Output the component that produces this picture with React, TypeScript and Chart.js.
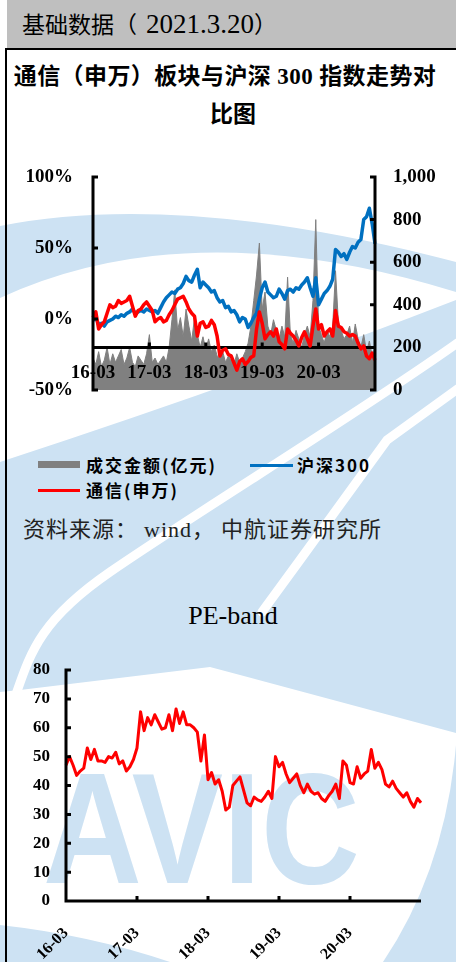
import React, { useEffect, useRef } from 'react';
import { Chart, registerables } from 'chart.js';

Chart.register(...registerables);

// ---------------- data ----------------
const yearLabels = ['16-03', '17-03', '18-03', '19-03', '20-03'];
const yearTickIndex = [0, 20, 40, 60, 80];

// 沪深300 cumulative change (%), 20 samples per year, 2016-03 .. 2021-03
const hs300Pct = [
  -1, 1, -4, -3, -5, -2, -1, 0, 2, 1,
  3, 2, 4, 5, 7, 4, 5, 6, 5, 7,
  6, 5, 6, 4, 8, 12, 15, 17, 19, 18,
  21, 22, 25, 30, 27, 26, 31, 35, 22, 26,
  24, 22, 19, 20, 15, 12, 13, 8, 9, 5,
  6, 3, -2, 1, 0, -6, -3, 1, 4, 14,
  22, 26, 19, 17, 15, 16, 21, 18, 14, 20,
  21, 19, 22, 21, 24, 26, 29, 22, 16, 29,
  10, 14, 18, 20, 23, 28, 49, 47, 44, 46,
  42, 47, 51, 50, 54, 56, 70, 72, 78, 67,
  53,
];

// 通信(申万) cumulative change (%)
const telecomPct = [
  1, 5, -7, -4, -2, 4, 10, 8, 9, 13,
  11, 12, 13, 16, 9, 2, 6, 7, 10, 12,
  9, 6, -2, 0, 1, -2, -1, 3, 6, 10,
  14, 15, 16, 12, 7, 4, 2, -12, -3, -2,
  -6, -5, -1, -4, -12, -26, -22, -21, -25, -26,
  -31, -36, -30, -28, -32, -30, -27, -26, -7, 5,
  -3, -14, -11, -9, -12, -7, -16, -18, -21, -7,
  -10, -12, -15, -19, -13, -9, -14, -19, -5, 7,
  -7, -4, -12, -9, -7, -12, 6, -5, -6, -9,
  -10, -12, -11, -12, -17, -21, -19, -26, -28, -24,
  -29,
];

// 成交金额 (亿元)
const turnoverYi = [
  150, 120, 180, 110, 140, 200, 120, 170, 130, 160,
  190, 120, 150, 200, 130, 110, 160, 140, 120, 170,
  260, 130, 150, 120, 140, 160, 130, 200, 330, 470,
  280, 340, 250, 380, 300, 230, 340, 260, 200, 250,
  190, 240, 180, 210, 160, 150, 180, 130, 160, 140,
  120, 170, 130, 150, 180, 220, 300, 420, 540, 690,
  380, 460, 300, 260, 330, 280, 240, 300, 250, 530,
  260, 220, 280, 240, 200, 260, 300, 250, 420, 800,
  300, 260, 220, 280, 250, 300, 560, 320, 280, 240,
  260, 300, 220, 310, 240, 200, 260, 180, 230, 160,
  200,
];

// PE-band
const peBand = [
  47, 50, 47, 43.5, 45, 46, 53, 49, 52.5, 48.5,
  48.5, 48, 50, 49.5, 51.5, 47.5, 48.5, 45, 46.5, 49,
  53, 65.5, 59, 63.5, 61, 64.5, 62, 59.5, 60, 64.5,
  59, 66.5, 61.5, 65.5, 61, 61, 60, 58.5, 48.5, 57.5,
  42, 44.5, 40.5, 42, 38, 31.5, 32.5, 40, 41.5, 43,
  38.5, 34, 33, 36, 35, 34.5, 36, 38, 35.5, 50,
  46.5, 48, 44, 41, 42.5, 44, 40, 37.5, 40.5, 38,
  37, 37.5, 35.5, 34.5, 36.5, 38, 40.5, 35.5, 48.5, 47,
  41, 40.5, 46.5, 42.5, 44, 45, 52.5, 46, 48, 45.5,
  40.5, 39.5, 41.5, 39, 37.5, 36, 37.5, 34.5, 32.5, 35.5,
  34,
];

const pctAxisTicks = [-50, 0, 50, 100];
const turnoverAxisTicks = [0, 200, 400, 600, 800, 1000];
const peAxisTicks = [0, 10, 20, 30, 40, 50, 60, 70, 80];
const xAxisCrossTurnover = 200;

// ---------------- styles ----------------
const SERIF = "'Liberation Serif', 'Times New Roman', serif";
const MIXED = "'Liberation Serif', 'Noto Sans CJK SC', serif";
const CJK = "'Noto Sans CJK SC', sans-serif";
const WATER = '#CDE2F3';

const trendAxesPlugin = {
  id: 'trendAxes',
  afterDatasetDraw(chart: any, args: any) {
    if (args.index !== 2) return;
    const { ctx, chartArea } = chart;
    const x = chart.scales.x;
    const yy = chart.scales.y1.getPixelForValue(xAxisCrossTurnover);
    ctx.save();
    ctx.strokeStyle = '#000';
    ctx.lineWidth = 3;
    ctx.beginPath();
    ctx.moveTo(chartArea.left, yy);
    ctx.lineTo(chartArea.right, yy);
    yearTickIndex.forEach((i) => {
      if (i === 0) return;
      const px = x.getPixelForValue(i);
      ctx.moveTo(px, yy);
      ctx.lineTo(px, yy - 5);
    });
    ctx.stroke();
    ctx.fillStyle = '#000';
    ctx.font = `bold 19px ${SERIF}`;
    ctx.textAlign = 'center';
    ctx.textBaseline = 'alphabetic';
    yearTickIndex.forEach((i, k) => {
      ctx.fillText(yearLabels[k], x.getPixelForValue(i), yy + 31);
    });
    ctx.restore();
  },
  afterDraw(chart: any) {
    const { ctx, chartArea } = chart;
    const yL = chart.scales.y;
    const yR = chart.scales.y1;
    ctx.save();
    ctx.strokeStyle = '#000';
    ctx.lineWidth = 3;
    ctx.beginPath();
    ctx.moveTo(chartArea.left, chartArea.top - 1.5);
    ctx.lineTo(chartArea.left, chartArea.bottom + 1.5);
    pctAxisTicks.forEach((v) => {
      const p = yL.getPixelForValue(v);
      ctx.moveTo(chartArea.left, p);
      ctx.lineTo(chartArea.left + 5, p);
    });
    ctx.moveTo(chartArea.right, chartArea.top - 1.5);
    ctx.lineTo(chartArea.right, chartArea.bottom + 1.5);
    turnoverAxisTicks.forEach((v) => {
      const p = yR.getPixelForValue(v);
      ctx.moveTo(chartArea.right, p);
      ctx.lineTo(chartArea.right - 5, p);
    });
    ctx.stroke();
    ctx.restore();
  },
};

const peAxesPlugin = {
  id: 'peAxes',
  afterDraw(chart: any) {
    const { ctx, chartArea } = chart;
    const x = chart.scales.x;
    const y = chart.scales.y;
    ctx.save();
    ctx.strokeStyle = '#000';
    ctx.lineWidth = 3;
    ctx.beginPath();
    ctx.moveTo(chartArea.left, chartArea.top - 1.5);
    ctx.lineTo(chartArea.left, chartArea.bottom);
    ctx.lineTo(chartArea.right, chartArea.bottom);
    peAxisTicks.forEach((v) => {
      const p = y.getPixelForValue(v);
      ctx.moveTo(chartArea.left, p);
      ctx.lineTo(chartArea.left + 5, p);
    });
    yearTickIndex.forEach((i) => {
      if (i === 0) return;
      const px = x.getPixelForValue(i);
      ctx.moveTo(px, chartArea.bottom);
      ctx.lineTo(px, chartArea.bottom - 5);
    });
    ctx.stroke();
    ctx.restore();
  },
};

function TrendChart() {
  const ref = useRef<HTMLCanvasElement>(null);
  useEffect(() => {
    const labels = hs300Pct.map((_, i) => String(i));
    const tickFont = { family: SERIF, size: 19, weight: 'bold' as const };
    const chart = new Chart(ref.current as HTMLCanvasElement, {
      type: 'line',
      data: {
        labels,
        datasets: [
          {
            label: '通信(申万)',
            data: telecomPct,
            yAxisID: 'y',
            borderColor: '#FF0000',
            borderWidth: 3.5,
            pointRadius: 0,
            tension: 0,
            borderJoinStyle: 'round',
            fill: false,
          },
          {
            label: '沪深300',
            data: hs300Pct,
            yAxisID: 'y',
            borderColor: '#0070C0',
            borderWidth: 3.5,
            pointRadius: 0,
            tension: 0,
            borderJoinStyle: 'round',
            fill: false,
          },
          {
            label: '成交金额(亿元)',
            data: turnoverYi,
            yAxisID: 'y1',
            borderColor: '#808080',
            borderWidth: 1,
            backgroundColor: '#808080',
            pointRadius: 0,
            tension: 0,
            fill: 'start',
          },
        ],
      },
      options: {
        animation: false,
        responsive: false,
        maintainAspectRatio: false,
        devicePixelRatio: 1,
        layout: { padding: { top: 32, bottom: 32, left: 0, right: 0 } },
        plugins: { legend: { display: false }, tooltip: { enabled: false } },
        scales: {
          x: { display: false },
          y: {
            position: 'left',
            min: -50,
            max: 100,
            ticks: {
              stepSize: 50,
              callback: (v: any) => `${v}%`,
              font: tickFont,
              color: '#000',
              padding: 20,
            },
            grid: { display: false, drawTicks: false },
            border: { display: false },
            afterFit: (s: any) => {
              s.width = 83;
            },
          },
          y1: {
            position: 'right',
            min: 0,
            max: 1000,
            ticks: {
              stepSize: 200,
              callback: (v: any) => Number(v).toLocaleString('en-US'),
              font: tickFont,
              color: '#000',
              padding: 18,
            },
            grid: { display: false, drawTicks: false },
            border: { display: false },
            afterFit: (s: any) => {
              s.width = 81;
            },
          },
        },
      } as any,
      plugins: [trendAxesPlugin],
    });
    return () => chart.destroy();
  }, []);
  return (
    <canvas
      ref={ref}
      width={446}
      height={277}
      style={{ position: 'absolute', left: 10, top: 145, width: 446, height: 277 }}
    />
  );
}

function PeChart() {
  const ref = useRef<HTMLCanvasElement>(null);
  useEffect(() => {
    const labels = peBand.map((_, i) => String(i));
    const chart = new Chart(ref.current as HTMLCanvasElement, {
      type: 'line',
      data: {
        labels,
        datasets: [
          {
            label: 'PE',
            data: peBand,
            borderColor: '#FF0000',
            borderWidth: 3,
            pointRadius: 0,
            tension: 0,
            borderJoinStyle: 'round',
            fill: false,
          },
        ],
      },
      options: {
        animation: false,
        responsive: false,
        maintainAspectRatio: false,
        devicePixelRatio: 1,
        layout: { padding: { top: 30, right: 35, left: 0, bottom: 0 } },
        plugins: { legend: { display: false }, tooltip: { enabled: false } },
        scales: {
          x: {
            ticks: {
              autoSkip: false,
              minRotation: 45,
              maxRotation: 45,
              padding: 23,
              color: '#000',
              font: { family: SERIF, size: 16, weight: 'bold' },
              callback: (_v: any, i: number) => {
                const k = yearTickIndex.indexOf(i);
                return k >= 0 ? yearLabels[k] : null;
              },
            },
            grid: { display: false, drawTicks: false },
            border: { display: false },
            afterFit: (s: any) => {
              s.height = 61;
            },
          },
          y: {
            min: 0,
            max: 80,
            ticks: {
              stepSize: 10,
              padding: 16,
              color: '#000',
              font: { family: SERIF, size: 17, weight: 'bold' },
            },
            grid: { display: false, drawTicks: false },
            border: { display: false },
            afterFit: (s: any) => {
              s.width = 56;
            },
          },
        },
      } as any,
      plugins: [peAxesPlugin],
    });
    return () => chart.destroy();
  }, []);
  return (
    <canvas
      ref={ref}
      width={446}
      height={322}
      style={{ position: 'absolute', left: 10, top: 640, width: 446, height: 322 }}
    />
  );
}

function Watermark() {
  return (
    <svg width={456} height={962} style={{ position: 'absolute', left: 0, top: 0 }}>
      <path d="M 0 226 Q 180 190 456 262 L 456 292 Q 190 210 0 298 Z" fill={WATER} />
      <path d="M 0 462 Q 250 380 456 300 L 456 733 L 210 667 L 20 690 L 0 692 Z" fill={WATER} />
      <path
        d="M 470 334 C 380 400 200 510 110 572 S 30 670 0 735"
        stroke="#fff"
        strokeWidth={9}
        fill="none"
      />
      <path
        d="M 470 380 L 387 440 L 300 560 L 262 612"
        stroke="#fff"
        strokeWidth={9}
        fill="none"
        strokeLinecap="round"
      />
      <path d="M 456 745 Q 445 870 383 962 L 456 962 Z" fill={WATER} />
      <path d="M 0 925 Q 90 935 170 962 L 0 962 Z" fill={WATER} />
      <text
        x={43}
        y={883}
        fontFamily="'Liberation Sans', Arial, sans-serif"
        fontWeight="bold"
        fontSize={158}
        textLength={317}
        lengthAdjust="spacingAndGlyphs"
        fill={WATER}
      >
        AVIC
      </text>
    </svg>
  );
}

export default function App() {
  const abs = (s: React.CSSProperties): React.CSSProperties => ({ position: 'absolute', ...s });
  const legendText: React.CSSProperties = {
    lineHeight: '20px',
    whiteSpace: 'nowrap',
    fontFamily: CJK,
    fontWeight: 700,
    fontSize: 17,
    letterSpacing: '2px',
  };
  return (
    <div
      style={{
        position: 'absolute',
        left: 0,
        top: 0,
        width: 456,
        height: 962,
        overflow: 'hidden',
        background: '#fff',
        color: '#000',
      }}
    >
      <Watermark />
      {/* header band */}
      <div style={abs({ left: 7, top: 0, width: 449, height: 48, background: '#BFBFBF' })} />
      <div
        style={abs({
          left: 22,
          top: -1,
          height: 48,
          lineHeight: '48px',
          whiteSpace: 'nowrap',
          fontFamily: CJK,
          fontSize: 23,
        })}
      >
        基础数据<span style={{ marginRight: 9 }}>（</span>
        <span style={{ fontFamily: SERIF, fontSize: 27 }}>2021.3.20</span>）
      </div>
      <div style={abs({ left: 5, top: 48, width: 451, height: 2, background: '#000' })} />
      <div style={abs({ left: 5, top: 48, width: 2, height: 914, background: '#000' })} />

      {/* chart 1 title */}
      <div
        style={abs({
          left: 0,
          top: 58,
          width: 450,
          lineHeight: '38px',
          textAlign: 'center',
          whiteSpace: 'nowrap',
          fontFamily: MIXED,
          fontWeight: 700,
          fontSize: 23,
          letterSpacing: '0.4px',
        })}
      >
        通信（申万）板块与沪深 300 指数走势对
      </div>
      <div
        style={abs({
          left: 7,
          top: 96,
          width: 452,
          lineHeight: '38px',
          textAlign: 'center',
          fontFamily: MIXED,
          fontWeight: 700,
          fontSize: 23,
        })}
      >
        比图
      </div>

      <TrendChart />

      {/* legend */}
      <div style={abs({ left: 38, top: 461, width: 42, height: 7, background: '#808080' })} />
      <div style={abs({ left: 86, top: 455, ...legendText })}>成交金额(亿元)</div>
      <div style={abs({ left: 250, top: 464, width: 43, height: 3, background: '#0070C0' })} />
      <div style={abs({ left: 297, top: 455, ...legendText })}>沪深300</div>
      <div style={abs({ left: 38, top: 489, width: 42, height: 3, background: '#FF0000' })} />
      <div style={abs({ left: 86, top: 480, ...legendText })}>通信(申万)</div>

      {/* source */}
      <div
        style={abs({
          left: 23,
          top: 519,
          lineHeight: '22px',
          whiteSpace: 'nowrap',
          fontFamily: MIXED,
          fontSize: 22,
          letterSpacing: '1px',
          color: '#222',
        })}
      >
        资料来源：<span style={{ marginLeft: 6 }}>wind</span>，
        <span style={{ marginLeft: 6 }}>中航证券研究所</span>
      </div>

      {/* PE title */}
      <div
        style={abs({
          left: 133,
          top: 601,
          width: 200,
          lineHeight: '30px',
          textAlign: 'center',
          fontFamily: SERIF,
          fontSize: 26,
        })}
      >
        PE-band
      </div>

      <PeChart />
    </div>
  );
}
